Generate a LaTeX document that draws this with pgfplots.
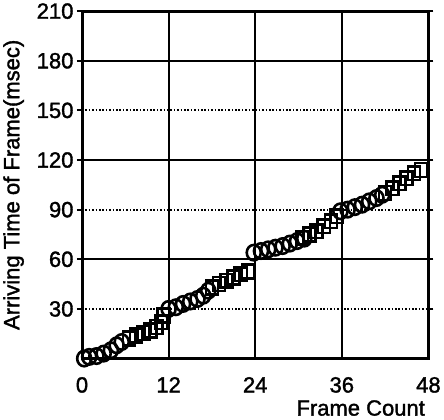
\documentclass[border=0pt]{standalone}
\usepackage{pgfplots}
\pgfplotsset{compat=1.18}
\usepackage{fontspec}
\setmainfont{Liberation Sans}[FakeBold=1.6]
\begin{document}
\begin{tikzpicture}
\begin{axis}[
  scale only axis,
  width=345bp, height=346bp,
  xmin=0, xmax=48, ymin=0, ymax=210,
  xtick={0,12,24,36,48},
  ytick={60,120,180},
  extra y ticks={30,90,150,210},
  extra y tick style={grid=major, major grid style={black, line width=1.8pt, dash pattern=on 1.6pt off 1.8pt}},
  grid=major,
  major grid style={black, line width=1.8pt},
  axis line style={line width=3pt},
  tick align=outside,
  x tick style={draw=none},
  y tick style={black, line width=1.8pt},
  major tick length=5bp,
  /pgf/number format/assume math mode=true,
  ticklabel style={font=\fontsize{22}{26}\selectfont},
  label style={font=\fontsize{22}{26}\selectfont},
  xticklabel style={yshift=-10bp},
  ylabel={Arriving Time of Frame(msec)},
  xlabel={Frame Count},
  xlabel style={at={(rel axis cs:1,0)}, anchor=north east, yshift=-38bp},
  ylabel style={yshift=-4bp},
  clip=false,
]
\addplot[only marks, mark=o, mark size=7bp, mark options={line width=2.6pt, yscale=1.1}] coordinates {
(0.3,0) (1,1) (2,1.5) (3,3) (4,5) (4.8,8) (5.5,10)
(12,30) (13,31) (14,33) (15,34.5) (16,36) (16.8,38) (17.5,41)
(23.8,64) (24.8,65) (25.8,66) (26.8,67) (27.8,68) (28.8,69.5) (29.8,71) (30.8,72.5)
(35.8,89) (36.8,90) (37.8,91.5) (38.8,93) (39.8,95) (40.8,97) (41.6,99)
};
\addplot[only marks, mark=square, mark size=6bp, mark options={line width=2.6pt, yscale=1.15}] coordinates {
(6.5,12) (7.5,14) (8.5,15.5) (9.5,17) (10.3,19) (11,22) (11.3,26)
(18,43) (19,45) (20,47) (21,49) (22,51) (23,52.5)
(30.5,73) (31.5,75) (32.5,77) (33.5,80) (34.5,83) (35.3,86)
(42,100) (43,103) (44,106) (45,109) (46,112) (47,114)
};
\end{axis}
\end{tikzpicture}
\end{document}
